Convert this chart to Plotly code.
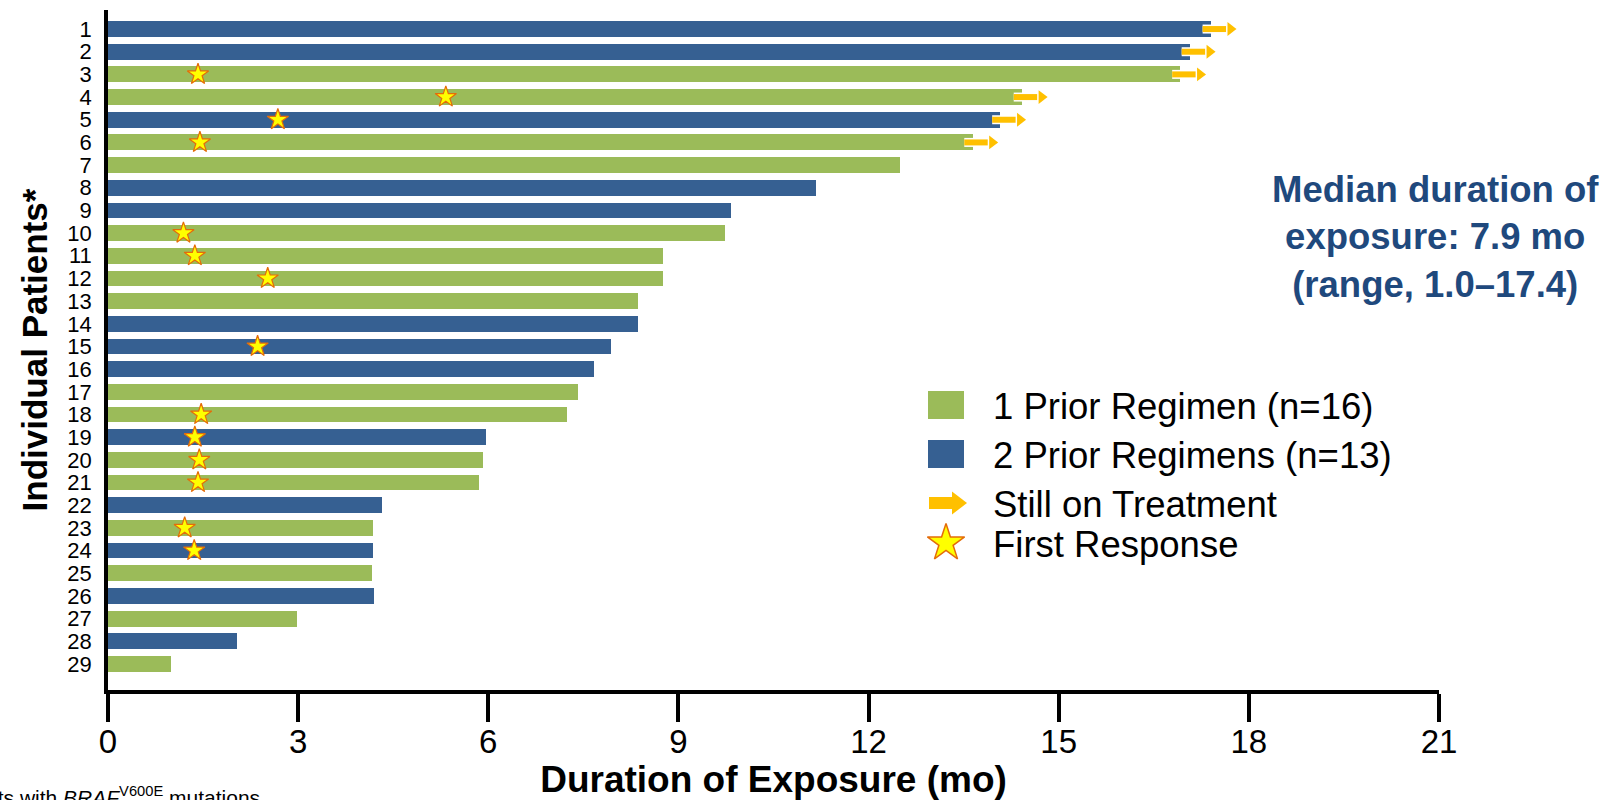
import plotly.graph_objects as go

# ---------------- data ----------------
patients = list(range(1, 30))
duration_mo = [17.4, 17.07, 16.92, 14.42, 14.08, 13.64, 12.49, 11.17, 9.83, 9.73,
               8.75, 8.75, 8.36, 8.36, 7.93, 7.67, 7.41, 7.24, 5.96, 5.91,
               5.85, 4.32, 4.18, 4.18, 4.17, 4.20, 2.98, 2.03, 1.0]
prior_regimens = [2, 2, 1, 1, 2, 1, 1, 2, 2, 1, 1, 1, 1, 2, 2, 2, 1, 1, 2, 1,
                  1, 2, 1, 2, 1, 2, 1, 2, 1]
still_on_treatment = [1, 2, 3, 4, 5, 6]
response_patients = [3, 4, 5, 6, 10, 11, 12, 15, 18, 19, 20, 21, 23, 24]
response_time_mo = [1.42, 5.33, 2.68, 1.45, 1.19, 1.37, 2.52, 2.36, 1.47, 1.37,
                    1.44, 1.42, 1.21, 1.36]
x_ticks = [0, 3, 6, 9, 12, 15, 18, 21]
legend_labels = ["1 Prior Regimen (n=16)", "2 Prior Regimens (n=13)",
                 "Still on Treatment", "First Response"]

GREEN = "#9BBB59"
BLUE = "#366092"
ORANGE = "#FFC000"
NAVY = "#1F497D"
FONT = "Liberation Sans, Arial, sans-serif"

W, H = 1604, 800
ML, MR, MT, MB = 108, 165, 10, 110

fig = go.Figure()

for grp, col in [(1, GREEN), (2, BLUE)]:
    ys = [p for p, g in zip(patients, prior_regimens) if g == grp]
    xs = [d for d, g in zip(duration_mo, prior_regimens) if g == grp]
    fig.add_trace(go.Bar(x=xs, y=ys, orientation="h", marker_color=col,
                         marker_line_width=0, width=0.7, showlegend=False,
                         hoverinfo="x+y"))

# still-on-treatment arrows (drawn from bar ends)
ax_x, ax_y, hx, hy = [], [], [], []
for p in still_on_treatment:
    end = duration_mo[p - 1]
    ax_x += [end - 0.13, end + 0.24, None]
    ax_y += [p, p, None]
    hx.append(end + 0.31)
    hy.append(p)
fig.add_trace(go.Scatter(x=ax_x, y=ax_y, mode="lines", line=dict(color="white", width=9),
                         showlegend=False, hoverinfo="skip"))
fig.add_trace(go.Scatter(x=ax_x, y=ax_y, mode="lines", line=dict(color=ORANGE, width=6),
                         showlegend=False, hoverinfo="skip"))
fig.add_trace(go.Scatter(x=hx, y=hy, mode="markers",
                         marker=dict(symbol="triangle-right", size=12, color=ORANGE,
                                     line=dict(width=0)),
                         showlegend=False, hoverinfo="skip"))

# first response stars
fig.add_trace(go.Scatter(x=response_time_mo, y=response_patients, mode="markers",
                         marker=dict(symbol="star", size=16, color="#FFFF00",
                                     line=dict(color="#E46C0A", width=1.2)),
                         showlegend=False))

# ---------- custom legend on a pixel-coordinate overlay axis ----------
leg_x0, leg_x1 = 928, 964
leg_rows = [405, 454, 503, 543]
shapes = []
for yc, col in zip(leg_rows[:2], [GREEN, BLUE]):
    shapes.append(dict(type="rect", xref="x2", yref="y2", x0=leg_x0, x1=leg_x1,
                       y0=yc - 14, y1=yc + 14, fillcolor=col, line_width=0))
fig.add_trace(go.Scatter(x=[929, 952], y=[leg_rows[2]] * 2, mode="lines",
                         line=dict(color=ORANGE, width=12), xaxis="x2", yaxis="y2",
                         showlegend=False, hoverinfo="skip"))
fig.add_trace(go.Scatter(x=[957], y=[leg_rows[2]], mode="markers",
                         marker=dict(symbol="triangle-right", size=20, color=ORANGE,
                                     line=dict(width=0)),
                         xaxis="x2", yaxis="y2", showlegend=False, hoverinfo="skip"))
fig.add_trace(go.Scatter(x=[946], y=[leg_rows[3]], mode="markers",
                         marker=dict(symbol="star", size=28, color="#FFFF00",
                                     line=dict(color="#E46C0A", width=1.5)),
                         xaxis="x2", yaxis="y2", showlegend=False, hoverinfo="skip"))

annotations = []
for yc, txt in zip(leg_rows, legend_labels):
    annotations.append(dict(xref="x2", yref="y2", x=991, y=yc + 1, text=txt,
                            showarrow=False, xanchor="left", yanchor="middle",
                            font=dict(family=FONT, size=36.5, color="black")))

annotations.append(dict(xref="x2", yref="y2", x=1435, y=237,
                        text="Median duration of<br>exposure: 7.9 mo<br>(range, 1.0\u201317.4)",
                        showarrow=False, xanchor="center", yanchor="middle",
                        align="center",
                        font=dict(family=FONT, size=36.5, color=NAVY, weight="bold")))

annotations.append(dict(xref="paper", yref="paper",
                        x=(262 - ML) / (W - ML - MR), y=(H - MB - 796) / (H - MT - MB),
                        text="*Patients with <i>BRAF</i><sup>V600E</sup> mutations",
                        showarrow=False, xanchor="right", yanchor="middle",
                        font=dict(family=FONT, size=21, color="black")))

fig.update_layout(
    width=W, height=H,
    margin=dict(l=ML, r=MR, t=MT, b=MB, pad=0),
    plot_bgcolor="white", paper_bgcolor="white",
    barmode="overlay", bargap=0,
    font=dict(family=FONT, color="black"),
    xaxis=dict(range=[0, 21], tickvals=x_ticks, ticktext=[str(t) for t in x_ticks],
               showgrid=False, zeroline=False, showline=True, linecolor="black",
               linewidth=3.5, ticks="outside", ticklen=28, tickwidth=3.5,
               tickcolor="black", tickfont=dict(size=33, family=FONT),
               ticklabelstandoff=-8,
               automargin=False,
               title=dict(text="<b>Duration of Exposure (mo)</b>",
                          font=dict(size=37, family=FONT), standoff=4)),
    yaxis=dict(range=[30.15, 0.16], tickvals=patients,
               ticktext=[str(p) for p in patients], showgrid=False, zeroline=False,
               showline=True, linecolor="black", linewidth=3.5, ticks="",
               automargin=False,
               ticklabelstandoff=8, tickfont=dict(size=22, family=FONT),
               title=dict(text="<b>Individual Patients*</b>",
                          font=dict(size=35, family=FONT), standoff=10)),
    xaxis2=dict(overlaying="x", range=[ML, W - MR], visible=False, fixedrange=True),
    yaxis2=dict(overlaying="y", range=[H - MB, MT], visible=False, fixedrange=True),
    shapes=shapes,
    annotations=annotations,
)

fig.write_html("out.html", config={"displayModeBar": False},
               post_script="document.body.style.margin='0px';document.body.style.overflow='hidden';")
